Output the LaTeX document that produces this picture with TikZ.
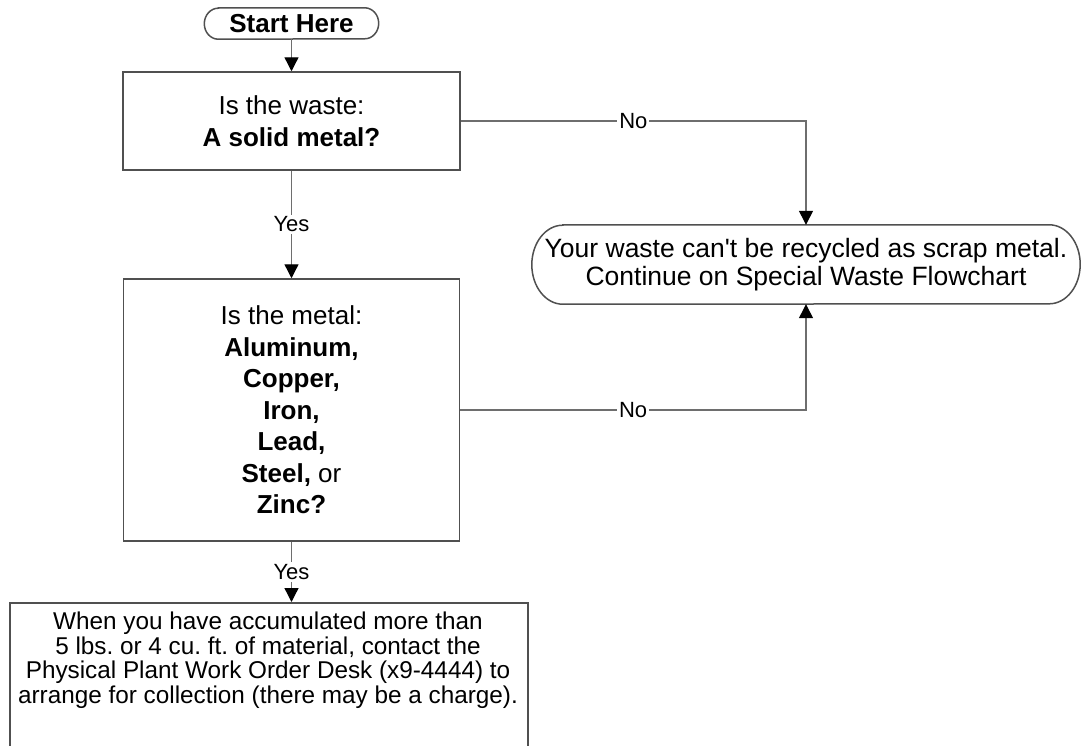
\documentclass[tikz,border=0pt]{standalone}
\usepackage{fontspec}
\setmainfont{Liberation Sans}
\newfontfamily\flowfont{Liberation Sans}
\usetikzlibrary{arrows.meta,calc}
\frenchspacing
\definecolor{framegray}{RGB}{80,80,80}
\definecolor{wiregray}{RGB}{110,110,110}
\tikzset{
  box/.style={draw=framegray, line width=1.5pt, align=center, inner sep=0pt},
  pill/.style={align=center, inner sep=0pt},
  pillline/.style={draw=framegray, line width=1.5pt},
  flow/.style={draw=wiregray, line width=1.3pt, -{Triangle[length=14pt,width=14pt,color=black]}},
  answer/.style={fill=white, inner sep=2pt, font=\fontsize{22}{24}\selectfont},
}
% rounded terminal outline around a named node: node, end x-radius, end y-radius
\newcommand\pillframe[3]{%
  \draw[pillline] ($(#1.north west)+(#2,0)$) -- ($(#1.north east)-(#2,0)$)
    arc[start angle=90,end angle=-90,x radius=#2pt,y radius=#3pt]
    -- ($(#1.south west)+(#2,0)$)
    arc[start angle=270,end angle=90,x radius=#2pt,y radius=#3pt] -- cycle;}
\begin{document}
\begin{tikzpicture}[x=1pt,y=-1pt]
\useasboundingbox (0,0) rectangle (1082,745);
\fill[white] (0,0) rectangle (1082,745);

% terminals
\node[pill, minimum width=174pt, minimum height=31pt,
      font=\fontsize{26}{28}\selectfont\bfseries] (start) at (291.5,23.5) {Start Here};
\pillframe{start}{14}{15.5}

\node[pill, minimum width=548pt, minimum height=79pt,
      font=\flowfont\fontsize{26.5}{28}\selectfont] (special) at (806,264.5)
  {Your waste can't be recycled as scrap metal.\\Continue on Special Waste Flowchart};
\pillframe{special}{31}{39.5}

% decision boxes
\node[box, minimum width=337pt, minimum height=98pt,
      font=\fontsize{26}{31.5}\selectfont] (solid) at (291.5,121)
  {Is the waste:\\\textbf{A solid metal?}};

\node[box, minimum width=336pt, minimum height=262pt,
      font=\fontsize{26}{31.5}\selectfont] (metal) at (291.5,410)
  {Is the metal:\\\textbf{Aluminum,}\\\textbf{Copper,}\\\textbf{Iron,}\\\textbf{Lead,}\\\textbf{Steel,} or\\\textbf{Zinc?}};

% collection box (runs past the lower edge)
\node[box, minimum width=518pt, minimum height=180pt, anchor=north west] (collect) at (9,602) {};
\node[align=center, inner sep=0pt, font=\fontsize{24.3}{24.5}\selectfont] (collectnote) at (268,660)
  {When you have accumulated more than\\5 lbs. or 4 cu. ft. of material, contact the\\Physical Plant Work Order Desk (x9-4444) to\\arrange for collection (there may be a charge).};

% connectors
\draw[flow] (start) -- (solid);
\draw[flow] (solid) -- node[answer]{Yes} (metal);
\draw[flow] (metal.south) -- node[answer]{Yes} (metal.south |- collect.north);
\draw[flow] (solid.east) -- node[answer]{No} (solid.east -| special.north) -- (special.north);
\draw[flow] (metal.east) -- node[answer]{No} (metal.east -| special.south) -- (special.south);
\end{tikzpicture}
\end{document}
